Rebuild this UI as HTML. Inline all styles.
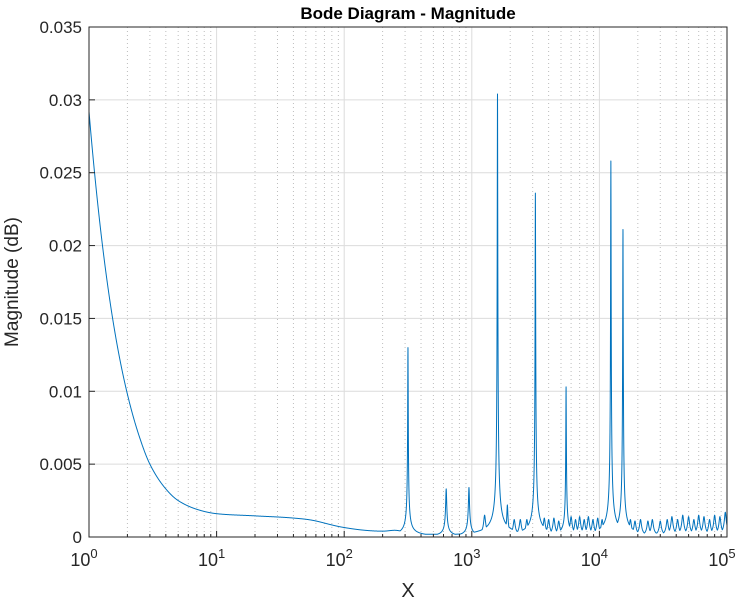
<!DOCTYPE html>
<html><head><meta charset="utf-8"><style>
body{margin:0;background:#fff;font-family:"Liberation Sans",Arial,sans-serif}
svg text{font-family:"Liberation Sans",Arial,sans-serif;fill:#262626}
</style></head><body>
<svg id="chart" width="745" height="600" viewBox="0 0 745 600" xmlns="http://www.w3.org/2000/svg">
<rect width="745" height="600" fill="#fff"/>
<g id="grid"></g>
<path id="line" fill="none" stroke="#0072bd" stroke-width="1" stroke-linejoin="round"/>
<rect x="89" y="27" width="638" height="510" fill="none" stroke="#262626" stroke-width="1"/>
<g id="ticks"></g>
<text x="408" y="19" text-anchor="middle" font-size="17" font-weight="bold" style="fill:#000">Bode Diagram - Magnitude</text>
<text x="408" y="597" text-anchor="middle" font-size="20">X</text>
<text transform="translate(18,282) rotate(-90)" text-anchor="middle" font-size="19">Magnitude (dB)</text>
</svg>
<script>
const yTicks=[0,0.005,0.01,0.015,0.02,0.025,0.03,0.035];
const yTickLabels=["0","0.005","0.01","0.015","0.02","0.025","0.03","0.035"];
const xDecades=[0,1,2,3,4,5];
const baseFreq=[1,1.2,1.5,2,2.5,3,4,5,7,10,20,40,60,100,150,200,260,400,1000,3000,10000,100000];
const baseVal=[0.0292,0.022,0.0155,0.0098,0.0068,0.005,0.0033,0.0025,0.0019,0.0016,0.00145,0.0013,0.0011,0.00065,0.00045,0.0004,0.00045,0.0002,0.0002,0.0002,0.00025,0.0003];
const peakFreq=[316,630,950,1260,1590,1900,2150,2400,2700,3150,3400,3700,4000,4400,4800,5480,6000,6500,7000,7600,8200,8900,9700,10500,12300,15300,17500,19000,21000,24000,26000,30000,34000,37000,41000,45000,50000,55000,60000,66000,73000,80000,88000,97000];
const peakVal=[0.013,0.0033,0.0034,0.0015,0.0304,0.0022,0.0012,0.0012,0.0012,0.0236,0.0014,0.0013,0.0012,0.0013,0.0011,0.0103,0.0014,0.0012,0.0014,0.0012,0.0014,0.0012,0.0013,0.0012,0.0258,0.0211,0.0012,0.0011,0.0012,0.0011,0.0012,0.0011,0.0012,0.0014,0.0012,0.0015,0.0014,0.0012,0.0015,0.0014,0.0012,0.0015,0.0014,0.0017];
const X0=89,X1=727,Y0=537,Y1=27;
const xs=f=>X0+Math.log10(f)/5*(X1-X0);
const ys=v=>Y0-v/0.035*(Y0-Y1);
const NS='http://www.w3.org/2000/svg';
function mk(tag,a,parent){const e=document.createElementNS(NS,tag);for(const k in a)e.setAttribute(k,a[k]);parent.appendChild(e);return e;}
const grid=document.getElementById('grid'),ticks=document.getElementById('ticks');
xDecades.forEach((d,i)=>{
  const x=xs(Math.pow(10,d));
  const g=mk('line',{x1:x,x2:x,y1:Y1,y2:Y0,stroke:'#dcdcdc','stroke-width':1},grid);
  
  
  const t=mk('line',{x1:x,x2:x,y1:Y0,y2:Y0-6,stroke:'#262626'},ticks);
  
  
  const tx=mk('text',{x:x-5,y:566,'text-anchor':'middle','font-size':18},ticks);
  
  
  tx.textContent='10';
  const sp=mk('tspan',{dy:-8,'font-size':13},tx);sp.textContent=String(d);
  if(d<5){for(let m=2;m<10;m++){
    const xm=xs(m*Math.pow(10,d));
    const gm=mk('line',{x1:xm,x2:xm,y1:Y1,y2:Y0,stroke:'#bdbdbd','stroke-width':1,'stroke-dasharray':'1,3'},grid);
    
    
    const tm=mk('line',{x1:xm,x2:xm,y1:Y0,y2:Y0-3,stroke:'#262626'},ticks);
    
    
  }}
});
yTicks.forEach((v,i)=>{
  const y=ys(v);
  const g=mk('line',{x1:X0,x2:X1,y1:y,y2:y,stroke:'#dcdcdc'},grid);
  
  
  const t=mk('line',{x1:X0,x2:X0+6,y1:y,y2:y,stroke:'#262626'},ticks);
  
  
  const tx=mk('text',{x:X0-7,y:y+6,'text-anchor':'end','font-size':17},ticks);
  
  
  tx.textContent=yTickLabels[i];
});
const lb=baseFreq.map(Math.log10), lv=baseVal.map(Math.log);
function base(lf){
  // monotone cubic (Catmull-Rom style) interpolation in log-log space
  const n=lb.length;
  for(let i=0;i<n-1;i++){if(lf<=lb[i+1]){
    const h=lb[i+1]-lb[i],t=(lf-lb[i])/h;
    const m0=i>0?(lv[i+1]-lv[i-1])/(lb[i+1]-lb[i-1])*h:(lv[i+1]-lv[i]);
    const m1=i<n-2?(lv[i+2]-lv[i])/(lb[i+2]-lb[i])*h:(lv[i+1]-lv[i]);
    const t2=t*t,t3=t2*t;
    const y=(2*t3-3*t2+1)*lv[i]+(t3-2*t2+t)*m0+(-2*t3+3*t2)*lv[i+1]+(t3-t2)*m1;
    return Math.exp(y);}}
  return baseVal[n-1];
}
function val(lf){
  let v=base(lf);
  for(let i=0;i<peakFreq.length;i++){
    const c=Math.log10(peakFreq[i]);const big=peakVal[i]>0.005;
    const w=big?0.002:(peakVal[i]>0.002?0.004:0.007);const d=lf-c;
    const p=peakVal[i]*w/Math.sqrt(d*d+w*w);
    if(p>v)v=p;
  }
  return v;
}
let lfs=[];for(let i=0;i<=5000;i++)lfs.push(i*5/5000);
peakFreq.forEach(f=>lfs.push(Math.log10(f)));
lfs.sort((a,b)=>a-b);
let d='';lfs.forEach((lf,i)=>{const x=X0+lf/5*(X1-X0);d+=(i?'L':'M')+x.toFixed(2)+','+ys(val(lf)).toFixed(2);});
document.getElementById('line').setAttribute('d',d);
</script>
</body></html>
